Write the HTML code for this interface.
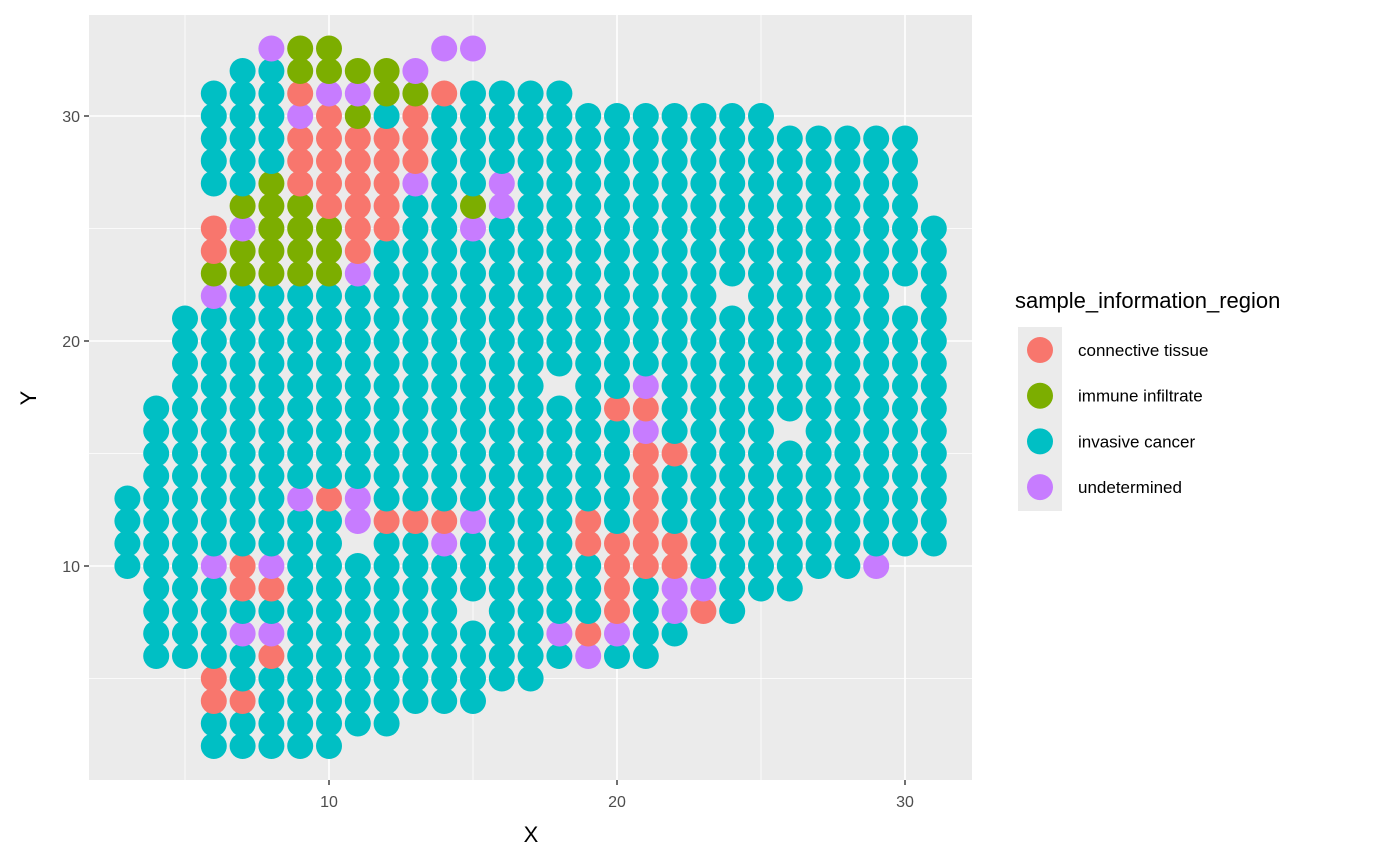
<!DOCTYPE html>
<html><head><meta charset="utf-8"><style>
html,body{margin:0;padding:0;background:#fff;}
svg{display:block;font-family:"Liberation Sans",Arial,sans-serif;}
</style></head><body>
<svg id="chart" width="1400" height="865" viewBox="0 0 1400 865" xmlns="http://www.w3.org/2000/svg">
<rect x="89" y="15" width="883" height="765" fill="#EBEBEB"/>
<g id="grid"></g>
<g id="points"></g>
<g id="axes"></g>
<text x="531" y="842" font-size="22" text-anchor="middle" fill="#000">X</text>
<text x="36" y="398" font-size="22" text-anchor="middle" fill="#000" transform="rotate(-90 36 398)">Y</text>
<g>
<text x="1015" y="308" font-size="22" fill="#000">sample_information_region</text>
<rect x="1018" y="327" width="44" height="184" fill="#EBEBEB"/>
<g id="legend-items"></g>
</g>
</svg>
<script>
const colX    = [3,4,5,6,7,8,9,10,11,12,13,14,15,16,17,18,19,20,21,22,23,24,25,26,27,28,29,30,31];
const colYMin = [10,6,6,2,2,2,2,2,3,3,4,4,4,5,5,6,6,6,6,7,8,8,9,9,10,10,10,11,11];
const colYMax = [13,17,21,31,32,33,33,33,32,32,32,33,33,31,31,31,30,30,30,30,30,30,30,29,29,29,29,29,25];
const missing = [[6,26],[11,11],[14,32],[15,32],[15,8],[18,18],[24,22],[26,16],[30,22]];
const connective = [[6,25],[6,24],[6,5],[6,4],[7,10],[7,9],[7,4],[8,9],[8,6],
 [9,31],[9,29],[9,28],[9,27],[10,30],[10,29],[10,28],[10,27],[10,26],[10,13],
 [11,29],[11,28],[11,27],[11,26],[11,25],[11,24],[12,29],[12,28],[12,27],[12,26],[12,25],[12,12],
 [13,30],[13,29],[13,28],[13,12],[14,31],[14,12],[19,12],[19,11],[19,7],
 [20,17],[20,11],[20,10],[20,9],[20,8],[21,17],[21,15],[21,14],[21,13],[21,12],[21,11],[21,10],
 [22,15],[22,11],[22,10],[23,8]];
const immune = [[6,23],[7,26],[7,24],[7,23],[8,27],[8,26],[8,25],[8,24],[8,23],
 [9,33],[9,32],[9,26],[9,25],[9,24],[9,23],[10,33],[10,32],[10,25],[10,24],[10,23],
 [11,32],[11,30],[12,32],[12,31],[13,31],[15,26]];
const undetermined = [[6,22],[6,10],[7,25],[7,7],[8,33],[8,10],[8,7],[9,30],[9,13],[10,31],
 [11,31],[11,23],[11,13],[11,12],[13,32],[13,27],[14,33],[14,11],[15,33],[15,25],[15,12],
 [16,27],[16,26],[18,7],[19,6],[20,7],[21,18],[21,16],[22,9],[22,8],[23,9],[29,10]];
const categories = ["connective tissue","immune infiltrate","invasive cancer","undetermined"];
const catColors = ["#F8766D","#7CAE00","#00BFC4","#C77CFF"];
const xTicks = [10,20,30];
const yTicks = [10,20,30];
const xMinor = [5,15,25];
const yMinor = [5,15,25];

const NS="http://www.w3.org/2000/svg";
const sx = v => 329 + (v-10)*28.8;
const sy = v => 566 - (v-10)*22.5;
function mk(tag, attrs, parent){const e=document.createElementNS(NS,tag);for(const k in attrs)e.setAttribute(k,attrs[k]);parent.appendChild(e);return e;}

const grid=document.getElementById('grid');
xMinor.forEach(v=>{const l=mk('line',{x1:sx(v),x2:sx(v),y1:15,y2:780,stroke:'#fff','stroke-width':0.8},grid);

});
yMinor.forEach(v=>{const l=mk('line',{x1:89,x2:972,y1:sy(v),y2:sy(v),stroke:'#fff','stroke-width':0.8},grid);

});
xTicks.forEach(v=>{const l=mk('line',{x1:sx(v),x2:sx(v),y1:15,y2:780,stroke:'#fff','stroke-width':1.6},grid);

});
yTicks.forEach(v=>{const l=mk('line',{x1:89,x2:972,y1:sy(v),y2:sy(v),stroke:'#fff','stroke-width':1.6},grid);

});

const axes=document.getElementById('axes');
xTicks.forEach(v=>{
 const t=mk('line',{x1:sx(v),x2:sx(v),y1:780,y2:785,stroke:'#333','stroke-width':1.4},axes);
 
 
 const l=mk('text',{x:sx(v),y:807,'font-size':16,'text-anchor':'middle',fill:'#4D4D4D'},axes);
 l.textContent=v;
 
 
});
yTicks.forEach(v=>{
 const t=mk('line',{x1:84,x2:89,y1:sy(v),y2:sy(v),stroke:'#333','stroke-width':1.4},axes);
 
 
 const l=mk('text',{x:80,y:sy(v)+6,'font-size':16,'text-anchor':'end',fill:'#4D4D4D'},axes);
 l.textContent=v;
 
 
});

const key=(x,y)=>x+','+y;
const miss=new Set(missing.map(p=>key(p[0],p[1])));
const catOf={};
connective.forEach(p=>catOf[key(p[0],p[1])]=0);
immune.forEach(p=>catOf[key(p[0],p[1])]=1);
undetermined.forEach(p=>catOf[key(p[0],p[1])]=3);
const pts=document.getElementById('points');
colX.forEach((x,i)=>{
 for(let y=colYMin[i]; y<=colYMax[i]; y++){
  const k=key(x,y); if(miss.has(k)) continue;
  const c = (k in catOf)? catOf[k] : 2;
  const d=mk('circle',{cx:sx(x),cy:sy(y),r:13,fill:catColors[c]},pts);
  
  
 }
});

const leg=document.getElementById('legend-items');
categories.forEach((c,i)=>{
 const cy=350+i*45.7;
 const g=mk('g',{},leg);
 
 
 mk('circle',{cx:1040,cy:cy,r:13,fill:catColors[i]},g);
 const t=mk('text',{x:1078,y:cy+6,'font-size':17,fill:'#000'},g);
 t.textContent=c;
});
</script>
</body></html>
